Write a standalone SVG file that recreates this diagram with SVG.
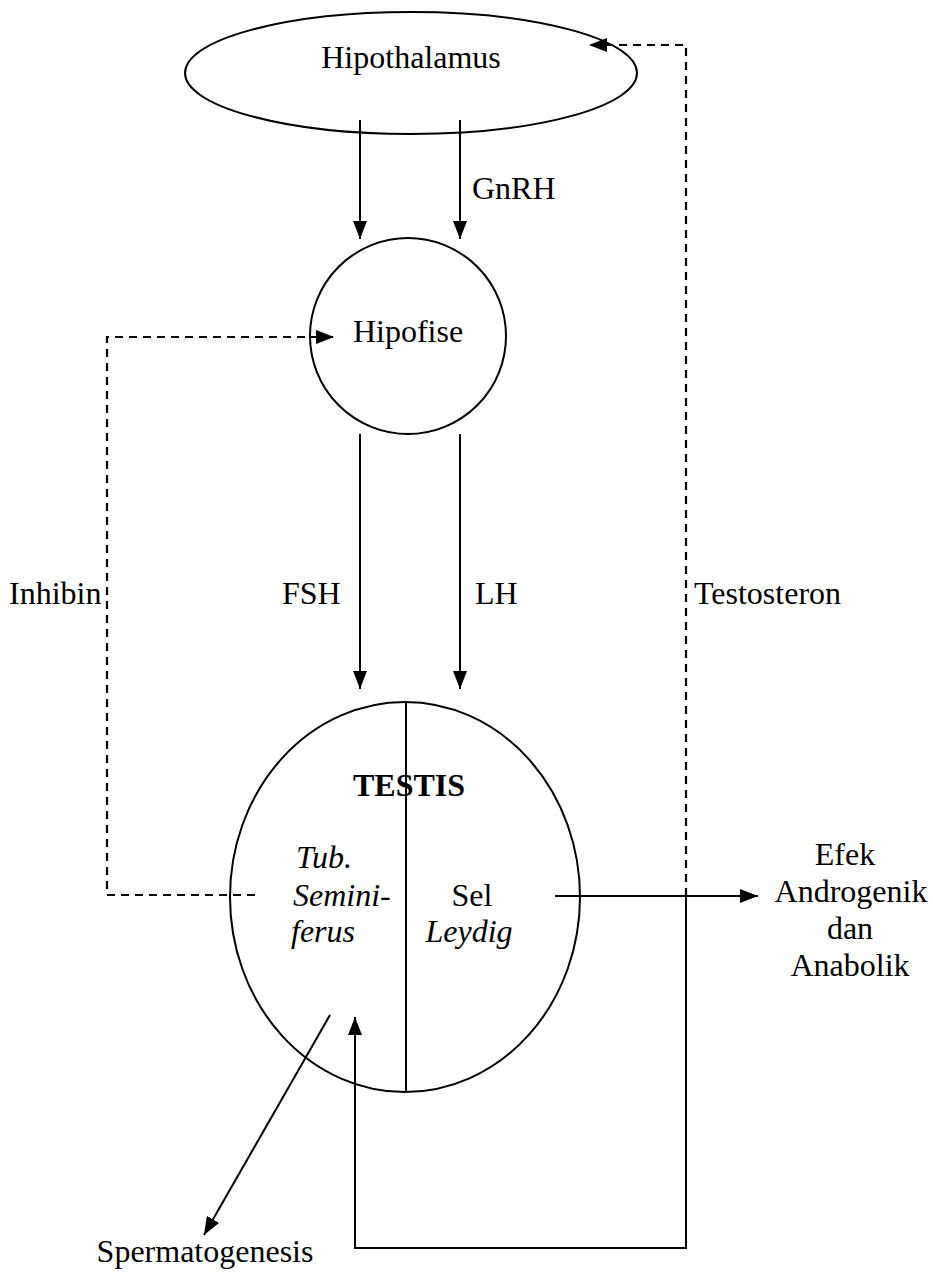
<svg xmlns="http://www.w3.org/2000/svg" width="933" height="1281" viewBox="0 0 933 1281">
<style>
  .shape { fill: none; stroke: #000; stroke-width: 2; }
  .line { fill: none; stroke: #000; stroke-width: 2; }
  .dash { fill: none; stroke: #000; stroke-width: 2.2; stroke-dasharray: 8 6; }
  text { font-family: "Liberation Serif", "Times New Roman", serif; font-size: 32px; fill: #000; }
  .c { text-anchor: middle; }
  .it { font-style: italic; }
  .b { font-weight: bold; }
</style>
<defs>
  <marker id="arr" viewBox="0 0 18 14" refX="18" refY="7" markerWidth="18" markerHeight="14" markerUnits="userSpaceOnUse" orient="auto">
    <path d="M0,0 L18,7 L0,14 Z" fill="#000"/>
  </marker>
</defs>
<rect width="933" height="1281" fill="#fff"/>

<g id="hipothalamus">
  <ellipse class="shape" cx="411" cy="73" rx="226" ry="61"/>
  <text class="c" x="411" y="68">Hipothalamus</text>
</g>

<g id="hipofise">
  <circle class="shape" cx="408" cy="336" r="98"/>
  <text class="c" x="408" y="342">Hipofise</text>
</g>

<g id="testis">
  <ellipse class="shape" cx="405" cy="897" rx="175" ry="195"/>
  <line class="line" x1="406" y1="702" x2="406" y2="1092"/>
  <text class="c b" x="409" y="796">TESTIS</text>
  <text class="it" x="296" y="868">Tub.</text>
  <text class="it" x="293" y="906">Semini-</text>
  <text class="it" x="291" y="942">ferus</text>
  <text class="c" x="472" y="906">Sel</text>
  <text class="c it" x="469" y="942">Leydig</text>
</g>

<g id="efek">
  <text class="c" x="845" y="865">Efek</text>
  <text class="c" x="851" y="902">Androgenik</text>
  <text class="c" x="850" y="939">dan</text>
  <text class="c" x="850" y="976">Anabolik</text>
</g>

<g id="spermatogenesis">
  <text class="c" x="205" y="1262">Spermatogenesis</text>
</g>

<g id="connectors">
  <line class="line" x1="360" y1="120" x2="360" y2="239" marker-end="url(#arr)"/>
  <line class="line" x1="460" y1="120" x2="460" y2="239" marker-end="url(#arr)"/>
  <line class="line" x1="360" y1="434" x2="360" y2="689" marker-end="url(#arr)"/>
  <line class="line" x1="460" y1="434" x2="460" y2="689" marker-end="url(#arr)"/>
  <polyline class="dash" points="255,895 107,895 107,337 334,337" marker-end="url(#arr)"/>
  <polyline class="dash" points="686,896 686,45 589,45" marker-end="url(#arr)"/>
  <line class="line" x1="555" y1="896" x2="758" y2="896" marker-end="url(#arr)"/>
  <polyline class="line" points="686,896 686,1248 355,1248 355,1017" marker-end="url(#arr)"/>
  <line class="line" x1="330" y1="1015" x2="204" y2="1235" marker-end="url(#arr)"/>
</g>

<g id="labels">
  <text x="472" y="199">GnRH</text>
  <text x="9" y="604">Inhibin</text>
  <text x="282" y="604">FSH</text>
  <text x="475" y="604">LH</text>
  <text x="694" y="604">Testosteron</text>
</g>
</svg>
